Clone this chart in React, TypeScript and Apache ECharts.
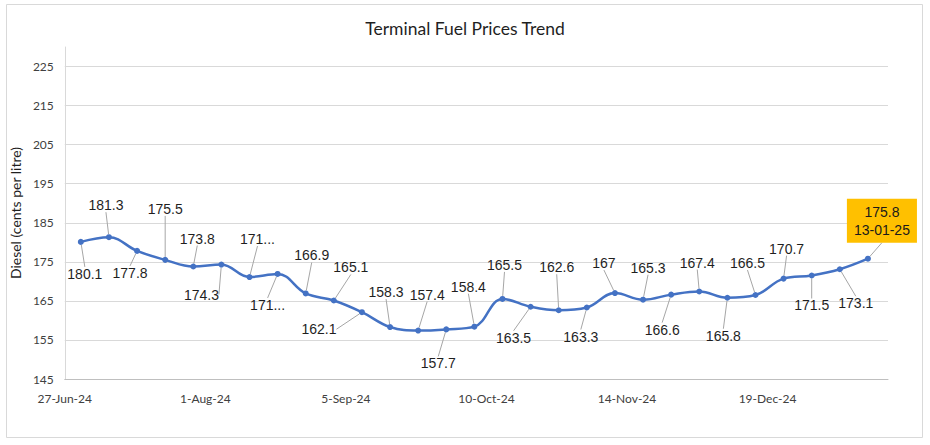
import React, { useEffect, useRef } from "react";
import * as echarts from "echarts";

const chartTitle = "Terminal Fuel Prices Trend";
const yAxisTitle = "Diesel (cents per litre)";
const axisStartDate = "2024-06-27";
const axisEndDays = 205;
const xTickStepDays = 35;
const xTickLabels = ["27-Jun-24", "1-Aug-24", "5-Sep-24", "10-Oct-24", "14-Nov-24", "19-Dec-24"];
const yMin = 145;
const yMax = 230;
const yStep = 10;

const dates = [
  "2024-07-01", "2024-07-08", "2024-07-15", "2024-07-22", "2024-07-29",
  "2024-08-05", "2024-08-12", "2024-08-19", "2024-08-26", "2024-09-02",
  "2024-09-09", "2024-09-16", "2024-09-23", "2024-09-30", "2024-10-07",
  "2024-10-14", "2024-10-21", "2024-10-28", "2024-11-04", "2024-11-11",
  "2024-11-18", "2024-11-25", "2024-12-02", "2024-12-09", "2024-12-16",
  "2024-12-23", "2024-12-30", "2025-01-06", "2025-01-13",
];
const values = [
  180.1, 181.3, 177.8, 175.5, 173.8, 174.3, 171.1, 171.9, 166.9, 165.1,
  162.1, 158.3, 157.4, 157.7, 158.4, 165.5, 163.5, 162.6, 163.3, 167,
  165.3, 166.6, 167.4, 165.8, 166.5, 170.7, 171.5, 173.1, 175.8,
];
const labelTexts = [
  "180.1", "181.3", "177.8", "175.5", "173.8", "174.3", "171...", "171...", "166.9", "165.1",
  "162.1", "158.3", "157.4", "157.7", "158.4", "165.5", "163.5", "162.6", "163.3", "167",
  "165.3", "166.6", "167.4", "165.8", "166.5", "170.7", "171.5", "173.1", "175.8\n13-01-25",
];

// label centre offsets from each point (pixels)
const labelOffsets: [number, number][] = [
  [4, 32], [-3, -32], [-7, 22], [0, -51], [4, -28], [-20, 30], [8, -38], [-10, 31], [6, -38], [17, -33],
  [-43, 17], [-4, -35], [9, -36], [-8, 34], [-6, -40], [2, -34], [-17, 31], [-2, -43], [-6, 29], [-11, -30],
  [5, -32], [-9, 35], [-2, -29], [-4, 38], [-8, -32], [3, -30], [0, 30], [16, 34], [14, -38],
];

const DAY = 86400000;
const dayOffset = (d: string) => Math.round((Date.parse(d + "T00:00:00Z") - Date.parse(axisStartDate + "T00:00:00Z")) / DAY);

export default function App() {
  const ref = useRef<HTMLDivElement>(null);
  useEffect(() => {
    if (!ref.current) return;
    const chart = echarts.init(ref.current, null, { renderer: "svg" });
    const last = values.length - 1;
    const data = values.map((v, i) => {
      const item: any = { value: [dayOffset(dates[i]), v - yMin] };
      if (i === last) {
        item.label = {
          backgroundColor: "#FFC000",
          padding: [4, 7],
          lineHeight: 18,
          color: "#1a1a1a",
        };
      }
      return item;
    });
    chart.setOption({
      animation: false,
      backgroundColor: "#ffffff",
      title: {
        text: chartTitle,
        left: "center",
        top: 14,
        textStyle: { fontFamily: "Lato", fontSize: 17.5, fontWeight: "normal", color: "#1f1f1f" },
      },
      graphic: [
        {
          type: "rect",
          shape: { x: 6.5, y: 4.5, width: 916, height: 433 },
          style: { fill: "none", stroke: "#D9D9D9", lineWidth: 1 },
          z: -1,
        },
      ],
      grid: { left: 62, right: 42, top: 47, bottom: 66, containLabel: false },
      xAxis: {
        type: "value",
        min: 0,
        max: axisEndDays,
        interval: xTickStepDays,
        axisLine: { show: true, onZero: false, lineStyle: { color: "#BFBFBF", width: 1 } },
        axisTick: { show: false },
        splitLine: { show: false },
        axisLabel: {
          margin: 13,
          fontFamily: "Lato",
          fontSize: 12,
          color: "#404040",
          showMaxLabel: false,
          formatter: (v: number) => {
            const idx = Math.round(v / xTickStepDays);
            return Math.abs(v - idx * xTickStepDays) < 1e-6 && xTickLabels[idx] ? xTickLabels[idx] : "";
          },
        },
      },
      yAxis: {
        type: "value",
        min: 0,
        max: yMax - yMin,
        interval: yStep,
        name: yAxisTitle,
        nameLocation: "middle",
        nameRotate: 90,
        nameGap: 34,
        nameTextStyle: { fontFamily: "Lato", fontSize: 14, color: "#1f1f1f" },
        axisLine: { show: true, onZero: false, lineStyle: { color: "#D9D9D9", width: 1 } },
        axisTick: { show: false },
        splitLine: { show: true, showMaxLine: false, lineStyle: { color: "#D9D9D9", width: 1 } },
        axisLabel: {
          margin: 11,
          fontFamily: "Lato",
          fontSize: 12,
          color: "#404040",
          showMaxLabel: false,
          formatter: (v: number) => (v >= yMax - yMin ? "" : String(Math.round(v + yMin))),
        },
      },
      series: [
        {
          type: "line",
          data,
          smooth: 0.4,
          symbol: "circle",
          symbolSize: 6,
          itemStyle: { color: "#4472C4" },
          lineStyle: { color: "#4472C4", width: 2.5 },
          label: {
            show: true,
            fontFamily: "Liberation Sans",
            fontSize: 14,
            color: "#1f1f1f",
            formatter: (p: any) => labelTexts[p.dataIndex],
          },
          labelLine: {
            show: true,
            lineStyle: { color: "#A6A6A6", width: 1 },
          },
          labelLayout: (p: any) => {
            const o = labelOffsets[p.dataIndex];
            const r = p.rect;
            return {
              x: r.x + r.width / 2 + o[0],
              y: r.y + r.height / 2 + o[1],
              align: "center",
              verticalAlign: "middle",
            };
          },
        },
      ],
    });
    return () => chart.dispose();
  }, []);
  return <div ref={ref} style={{ position: "absolute", left: 0, top: 0, width: 930, height: 445 }} />;
}
